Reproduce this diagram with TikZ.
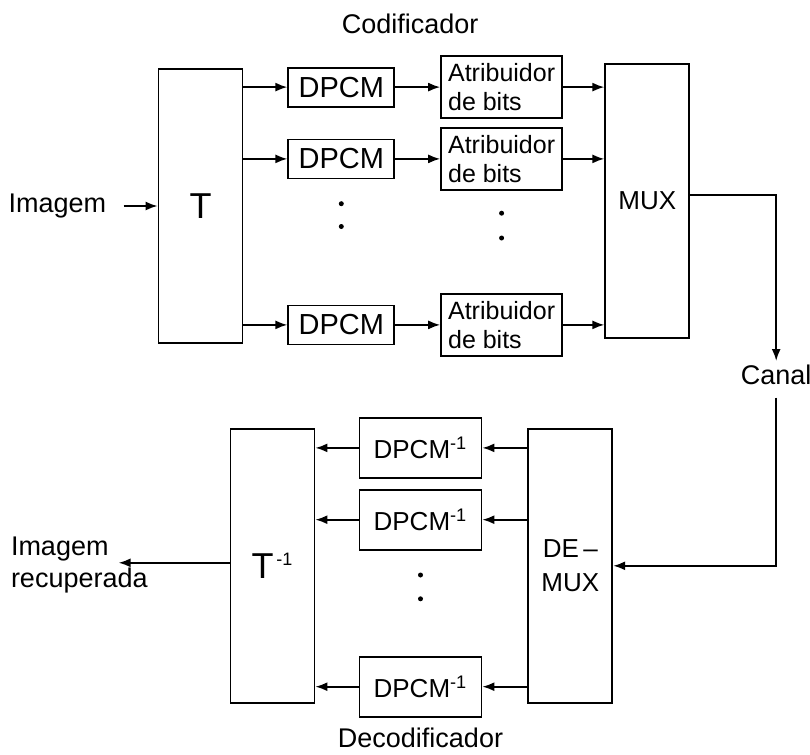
\documentclass[tikz,border=0pt]{standalone}
\usepackage{fontspec}
\setmainfont{Liberation Sans}
\usetikzlibrary{arrows.meta, positioning}

\begin{document}
\begin{tikzpicture}[
    box/.style={
        rectangle,
        draw=black,
        line width=0.9pt,
        minimum width=53pt,
        minimum height=19.5pt,
        inner sep=1pt,
        font=\fontsize{14.5}{16}\selectfont
    },
    bitbox/.style={
        rectangle,
        draw=black,
        line width=0.9pt,
        align=left,
        minimum width=60.5pt,
        minimum height=31pt,
        inner sep=1.5pt,
        font=\fontsize{12.5}{14.5}\selectfont
    },
    invbox/.style={
        rectangle,
        draw=black,
        line width=0.9pt,
        minimum width=61pt,
        minimum height=30pt,
        inner sep=1pt,
        font=\fontsize{13}{15}\selectfont
    },
    tallbox/.style={
        rectangle,
        draw=black,
        line width=0.9pt,
        align=center,
        minimum width=42pt,
        minimum height=137pt,
        font=\fontsize{13}{17}\selectfont
    },
    dot/.style={circle, fill=black, inner sep=0pt, minimum size=2.5pt},
    lbl/.style={inner sep=2pt, font=\fontsize{13.5}{16}\selectfont},
    arrow/.style={-{Latex[length=6pt,width=4.5pt]}, line width=0.9pt}
]

\useasboundingbox (0,0) rectangle (405pt,-377.5pt);

% ---------------- Codificador ----------------
\node[tallbox] (t) at (100.25pt,-103pt) {\fontsize{18}{20}\selectfont T};
\node[lbl, left=23.5pt of t] (img) {Imagem};

\node[box, right=22pt of t.north east, yshift=-9.5pt] (d1) {DPCM};
\node[box, below=15.5pt of d1] (d2) {DPCM};
\node[box, right=22pt of t.south east, yshift=9.5pt] (d3) {DPCM};

\node[bitbox, right=22.5pt of d1] (a1) {Atribuidor\\de bits};
\node[bitbox, right=22.5pt of d2] (a2) {Atribuidor\\de bits};
\node[bitbox, right=22.5pt of d3] (a3) {Atribuidor\\de bits};

\node[tallbox, right=180.5pt of t, yshift=2.5pt] (mux) {MUX};

\node[dot, below=10.75pt of d2] (dd1) {};
\node[dot, below=8.5pt of dd1] (dd2) {};
\node[dot, below=9.75pt of a2] (ad1) {};
\node[dot, below=9.5pt of ad1] (ad2) {};

\draw[arrow, shorten <=6.5pt] (img) -- (t);
\draw[arrow] (t.east |- d1) -- (d1);
\draw[arrow] (t.east |- d2) -- (d2);
\draw[arrow] (t.east |- d3) -- (d3);
\draw[arrow] (d1) -- (a1);
\draw[arrow] (d2) -- (a2);
\draw[arrow] (d3) -- (a3);
\draw[arrow] (a1) -- (a1 -| mux.west);
\draw[arrow] (a2) -- (a2 -| mux.west);
\draw[arrow] (a3) -- (a3 -| mux.west);

\node[lbl, above=8.5pt of a1.north west, xshift=-15pt] (cod) {Codificador};

% ---------------- Canal ----------------
\node[lbl, below=80pt of mux.east, xshift=43pt] (canal) {Canal};
\draw[arrow] ([yshift=3pt]mux.east) -| (canal.north);

% ---------------- Decodificador ----------------
\node[tallbox, below=44.5pt of mux, xshift=-38.5pt] (demux) {DE\,--\\MUX};

\node[invbox, left=22.5pt of demux.north west, yshift=-10pt] (e1) {DPCM\textsuperscript{-1}};
\node[invbox, below=5pt of e1] (e2) {DPCM\textsuperscript{-1}};
\node[invbox, left=22.5pt of demux.south west, yshift=8.5pt] (e3) {DPCM\textsuperscript{-1}};

\node[tallbox, left=106pt of demux] (tinv) {\fontsize{18}{20}\selectfont T\textsuperscript{\fontsize{9}{10}\selectfont\,-1}};

\node[dot, below=10.75pt of e2] (ed1) {};
\node[dot, below=9pt of ed1] (ed2) {};

\coordinate[left=55.5pt of tinv.west, yshift=1.5pt] (out);
\node[lbl, align=left, anchor=west, xshift=-56pt, yshift=-1pt] (rec) at (out) {Imagem\\recuperada};

\draw[arrow, shorten <=4pt] (canal.south) |- (demux.east);
\draw[arrow] (e1 -| demux.west) -- (e1);
\draw[arrow] (e2 -| demux.west) -- (e2);
\draw[arrow] (e3 -| demux.west) -- (e3);
\draw[arrow] (e1) -- (e1 -| tinv.east);
\draw[arrow] (e2) -- (e2 -| tinv.east);
\draw[arrow] (e3) -- (e3 -| tinv.east);
\draw[arrow] (out -| tinv.west) -- (out);

\node[lbl, below=3pt of e3] (dec) {Decodificador};

\end{tikzpicture}
\end{document}
